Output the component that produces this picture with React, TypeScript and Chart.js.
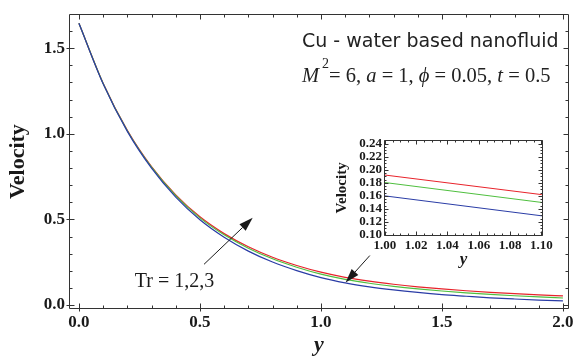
import React, { useEffect, useRef } from "react";
import { Chart, registerables } from "chart.js";

Chart.register(...registerables);

// ---- data ----
const positionY = [0, 0.1, 0.2, 0.3, 0.4, 0.5, 0.6, 0.7, 0.8, 0.9, 1.0, 1.1, 1.2, 1.3, 1.4, 1.5, 1.6, 1.7, 1.8, 1.9, 2.0];
const velocityTr1 = [1.645, 1.292, 1.014, 0.799, 0.63, 0.498, 0.396, 0.315, 0.251, 0.201, 0.16, 0.1295, 0.1065, 0.0885, 0.0736, 0.0611, 0.0515, 0.0423, 0.0353, 0.0293, 0.0241];
const velocityTr2 = [1.645, 1.294, 1.018, 0.805, 0.639, 0.509, 0.41, 0.332, 0.27, 0.221, 0.1805, 0.15, 0.1275, 0.1095, 0.0946, 0.0821, 0.0715, 0.0623, 0.0543, 0.0473, 0.0411];
const velocityTr3 = [1.645, 1.295, 1.02, 0.808, 0.643, 0.515, 0.417, 0.34, 0.279, 0.231, 0.192, 0.162, 0.1395, 0.1215, 0.1066, 0.0941, 0.0835, 0.0743, 0.0663, 0.0593, 0.0531];

const mainXTicks = [0, 0.5, 1.0, 1.5, 2.0];
const mainYTicks = [0, 0.5, 1.0, 1.5];
const insetXTicks = [1.0, 1.02, 1.04, 1.06, 1.08, 1.1];
const insetYTicks = [0.1, 0.12, 0.14, 0.16, 0.18, 0.2, 0.22, 0.24];

const seriesLabels = ["Tr = 1", "Tr = 2", "Tr = 3"];
const seriesColors = ["#2a3ca6", "#4fbf3f", "#e8232b"];

const titleText = "Cu - water based nanofluid";
const trLabel = "Tr = 1,2,3";

const SERIF = "'Liberation Serif', 'Times New Roman', serif";
const FRAME = "#333333";
const INK = "#1a1a1a";

function range(a: number, b: number, step: number): number[] {
  const out: number[] = [];
  const n = Math.round((b - a) / step);
  for (let i = 0; i <= n; i++) out.push(+(a + i * step).toFixed(6));
  return out;
}

function makeDatasets(width: number, tension: number) {
  const all = [velocityTr1, velocityTr2, velocityTr3];
  return all.map((vals, k) => ({
    label: seriesLabels[k],
    data: positionY.map((p, i) => ({ x: p, y: vals[i] })),
    borderColor: seriesColors[k],
    backgroundColor: seriesColors[k],
    borderWidth: width,
    pointRadius: 0,
    tension,
    cubicInterpolationMode: tension > 0 ? ("monotone" as const) : ("default" as const),
    fill: false,
  }));
}

type FrameCfg = {
  minorX: number[];
  majorX: number[];
  minorY: number[];
  majorY: number[];
  majorLen: number;
  minorLen: number;
  outLen: number;
};

function drawFrame(chart: any, cfg: FrameCfg) {
  const { ctx, chartArea: a, scales } = chart;
  const xs = scales.x;
  const ys = scales.y;
  const L = Math.round(a.left) + 0.5;
  const R = Math.round(a.right) - 0.5;
  const T = Math.round(a.top) + 0.5;
  const B = Math.round(a.bottom) - 0.5;
  ctx.save();
  ctx.strokeStyle = FRAME;
  ctx.lineWidth = 1;
  ctx.beginPath();
  ctx.rect(L, T, R - L, B - T);
  ctx.stroke();
  ctx.beginPath();
  const isMajor = (v: number, majors: number[]) => majors.some((m) => Math.abs(m - v) < 1e-6);
  for (const v of cfg.minorX) {
    const px = Math.round(xs.getPixelForValue(v)) + 0.5;
    if (px < L - 0.1 || px > R + 0.1) continue;
    const len = isMajor(v, cfg.majorX) ? cfg.majorLen : cfg.minorLen;
    const out = isMajor(v, cfg.majorX) ? cfg.outLen : 0;
    ctx.moveTo(px, B + out);
    ctx.lineTo(px, B - len);
    ctx.moveTo(px, T);
    ctx.lineTo(px, T + len);
  }
  for (const v of cfg.minorY) {
    const py = Math.round(ys.getPixelForValue(v)) + 0.5;
    if (py < T - 0.1 || py > B + 0.1) continue;
    const len = isMajor(v, cfg.majorY) ? cfg.majorLen : cfg.minorLen;
    const out = isMajor(v, cfg.majorY) ? cfg.outLen : 0;
    ctx.moveTo(L - out, py);
    ctx.lineTo(L + len, py);
    ctx.moveTo(R, py);
    ctx.lineTo(R - len, py);
  }
  ctx.stroke();
  ctx.restore();
}

function drawArrow(ctx: CanvasRenderingContext2D, x0: number, y0: number, x1: number, y1: number) {
  const ang = Math.atan2(y1 - y0, x1 - x0);
  const head = 14;
  const half = 4.5;
  const bx = x1 - head * Math.cos(ang);
  const by = y1 - head * Math.sin(ang);
  ctx.beginPath();
  ctx.moveTo(x0, y0);
  ctx.lineTo(bx, by);
  ctx.stroke();
  ctx.beginPath();
  ctx.moveTo(x1, y1);
  ctx.lineTo(bx + half * Math.sin(ang), by - half * Math.cos(ang));
  ctx.lineTo(bx - half * Math.sin(ang), by + half * Math.cos(ang));
  ctx.closePath();
  ctx.fill();
}

const mainDecor = {
  id: "mainDecor",
  afterDraw(chart: any) {
    drawFrame(chart, {
      minorX: range(0, 2, 0.1),
      majorX: mainXTicks,
      minorY: range(0, 1.6, 0.1),
      majorY: mainYTicks,
      majorLen: 5,
      minorLen: 3,
      outLen: 3,
    });
    const { ctx, scales } = chart;
    const xs = scales.x;
    const ys = scales.y;
    ctx.save();
    ctx.fillStyle = INK;
    // axis titles
    ctx.font = `bold 22px ${SERIF}`;
    ctx.textAlign = "center";
    ctx.textBaseline = "alphabetic";
    ctx.save();
    ctx.translate(24, (chart.chartArea.top + chart.chartArea.bottom) / 2);
    ctx.rotate(-Math.PI / 2);
    ctx.fillText("Velocity", 0, 0);
    ctx.restore();
    ctx.font = `italic bold 22px ${SERIF}`;
    ctx.fillText("y", (chart.chartArea.left + chart.chartArea.right) / 2, 351);

    // header text
    ctx.textAlign = "left";
    ctx.font = "19px 'DejaVu Sans', Verdana, sans-serif";
    ctx.fillStyle = "#222";
    ctx.fillText(titleText, 302, 47);

    // parameter line
    const runs: { t: string; it?: boolean; sup?: boolean }[] = [
      { t: "M", it: true },
      { t: "2", sup: true },
      { t: "= 6, " },
      { t: "a", it: true },
      { t: " = 1, " },
      { t: "\u03D5", it: true },
      { t: " = 0.05, " },
      { t: "t", it: true },
      { t: " = 0.5" },
    ];
    let cx = 302;
    const base = 81.5;
    for (const r of runs) {
      if (r.sup) {
        ctx.font = `14px ${SERIF}`;
        cx += 3;
        ctx.fillText(r.t, cx, base - 14);
      } else {
        ctx.font = `${r.it ? "italic " : ""}20.5px ${SERIF}`;
        ctx.fillText(r.t, cx, base);
      }
      cx += ctx.measureText(r.t).width;
    }

    // Tr label and arrows
    ctx.font = `20px ${SERIF}`;
    ctx.fillStyle = INK;
    ctx.fillText(trLabel, xs.getPixelForValue(0.231), ys.getPixelForValue(0.105));
    ctx.strokeStyle = INK;
    ctx.lineWidth = 1;
    drawArrow(ctx, xs.getPixelForValue(0.517), ys.getPixelForValue(0.238), xs.getPixelForValue(0.718), ys.getPixelForValue(0.509));
    drawArrow(ctx, xs.getPixelForValue(1.202), ys.getPixelForValue(0.289), xs.getPixelForValue(1.102), ys.getPixelForValue(0.132));
    ctx.restore();
  },
};

const insetDecor = {
  id: "insetDecor",
  afterDraw(chart: any) {
    drawFrame(chart, {
      minorX: range(1.0, 1.1, 0.005),
      majorX: insetXTicks,
      minorY: range(0.1, 0.245, 0.005),
      majorY: insetYTicks,
      majorLen: 4,
      minorLen: 2,
      outLen: 0,
    });
    const { ctx, chartArea: a } = chart;
    ctx.save();
    ctx.fillStyle = INK;
    ctx.textAlign = "center";
    ctx.textBaseline = "alphabetic";
    ctx.font = `bold 15px ${SERIF}`;
    ctx.save();
    ctx.translate(26, (a.top + a.bottom) / 2);
    ctx.rotate(-Math.PI / 2);
    ctx.fillText("Velocity", 0, 0);
    ctx.restore();
    ctx.font = `italic bold 17px ${SERIF}`;
    ctx.fillText("y", (a.left + a.right) / 2, 134);
    ctx.restore();
  },
};

function baseOptions(p: {
  xmin: number; xmax: number; ymin: number; ymax: number;
  xTicks: number[]; yTicks: number[]; digits: number; fontSize: number;
  xHeight: number; yWidth: number; padding: any; xPad: number; yPad: number;
}) {
  const font = { family: SERIF, weight: "bold" as const, size: p.fontSize };
  return {
    responsive: false,
    animation: false as const,
    events: [],
    layout: { padding: p.padding },
    plugins: { legend: { display: false }, tooltip: { enabled: false } },
    scales: {
      x: {
        type: "linear" as const,
        min: p.xmin,
        max: p.xmax,
        afterBuildTicks: (s: any) => { s.ticks = p.xTicks.map((v) => ({ value: v })); },
        afterFit: (s: any) => { s.height = p.xHeight; },
        grid: { display: false, drawTicks: false },
        border: { display: false },
        ticks: {
          font, color: INK, padding: p.xPad, maxRotation: 0, autoSkip: false,
          callback: (v: any) => Number(v).toFixed(p.digits),
        },
      },
      y: {
        type: "linear" as const,
        min: p.ymin,
        max: p.ymax,
        afterBuildTicks: (s: any) => { s.ticks = p.yTicks.map((v) => ({ value: v })); },
        afterFit: (s: any) => { s.width = p.yWidth; },
        grid: { display: false, drawTicks: false },
        border: { display: false },
        ticks: {
          font, color: INK, padding: p.yPad, autoSkip: false,
          callback: (v: any) => Number(v).toFixed(p.digits),
        },
      },
    },
  };
}

export default function App() {
  const mainRef = useRef<HTMLCanvasElement | null>(null);
  const insetRef = useRef<HTMLCanvasElement | null>(null);

  useEffect(() => {
    if (!mainRef.current || !insetRef.current) return;
    const main = new Chart(mainRef.current, {
      type: "line",
      data: { datasets: makeDatasets(1.2, 0.4) as any },
      options: baseOptions({
        xmin: -0.041, xmax: 2.025, ymin: -0.023, ymax: 1.698,
        xTicks: mainXTicks, yTicks: mainYTicks, digits: 1, fontSize: 17,
        xHeight: 50, yWidth: 69, padding: { left: 0, right: 8, top: 5, bottom: 0 },
        xPad: 3, yPad: 4,
      }) as any,
      plugins: [mainDecor],
    });
    const inset = new Chart(insetRef.current, {
      type: "line",
      data: { datasets: makeDatasets(1, 0) as any },
      options: baseOptions({
        xmin: 0.9995, xmax: 1.101, ymin: 0.0985, ymax: 0.246,
        xTicks: insetXTicks, yTicks: insetYTicks, digits: 2, fontSize: 13,
        xHeight: 44, yWidth: 64, padding: { left: 0, right: 17, top: 9, bottom: 0 },
        xPad: 2, yPad: 2,
      }) as any,
      plugins: [insetDecor],
    });
    return () => {
      main.destroy();
      inset.destroy();
    };
  }, []);

  return (
    <div style={{ position: "fixed", left: 0, top: 0, width: 577, height: 359, background: "#fff" }}>
      <canvas ref={mainRef} width={577} height={359} style={{ position: "absolute", left: 0, top: 0, width: 577, height: 359 }} />
      <canvas ref={insetRef} width={240} height={150} style={{ position: "absolute", left: 320, top: 130, width: 240, height: 150 }} />
    </div>
  );
}
